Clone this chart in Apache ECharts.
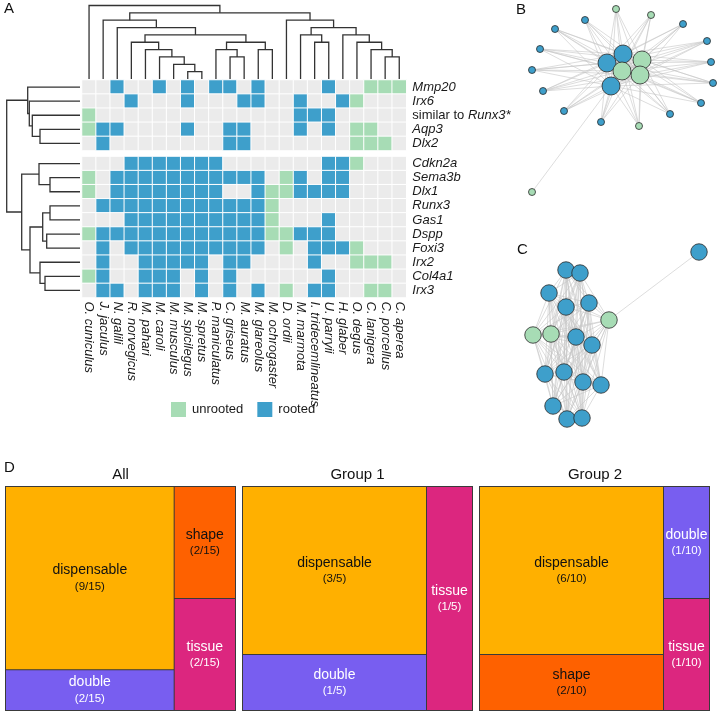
<!DOCTYPE html>
<html>
<head>
<meta charset="utf-8">
<script src="https://cdn.jsdelivr.net/npm/echarts@6/dist/echarts.min.js"></script>
<style>
  html, body { margin: 0; padding: 0; background: #fff; }
  #chart { width: 720px; height: 714px; }
</style>
</head>
<body>
<div id="chart"></div>
<script>
// ---------- data ----------
const species = ['O. cuniculus', 'J. jaculus', 'N. galili', 'R. norvegicus', 'M. pahari', 'M. caroli',
  'M. musculus', 'M. spicilegus', 'M. spretus', 'P. maniculatus', 'C. griseus', 'M. auratus',
  'M. glareolus', 'M. ochrogaster', 'D. ordii', 'M. marmota', 'I. tridecemlineatus', 'U. parryii',
  'H. glaber', 'O. degus', 'C. lanigera', 'C. porcellus', 'C. aperea'];
const genes = ['Mmp20', 'Irx6', 'similar to Runx3*', 'Aqp3', 'Dlx2',
  'Cdkn2a', 'Sema3b', 'Dlx1', 'Runx3', 'Gas1', 'Dspp', 'Foxi3', 'Irx2', 'Col4a1', 'Irx3'];
const topBlock = 5; // first 5 genes sit in the upper block

// one char per species: . = none, g = unrooted, b = rooted
const calls = [
  '..b..b.b.bb.b....b..ggg',
  '...b...b...bb..b..bg...',
  'g..............bbb.....',
  'gbb....b..bb...b.b.gg..',
  '.b........bb.......ggg.',
  '...bbbbbbb.......bbg...',
  'g.bbbbbbbbbbb.gb.bb....',
  'g.bbbbbbbb..bggbbbb....',
  '.bbbbbbbbbbbbg.........',
  '...bbbbbbbbbbg...b.....',
  'gbbbbbbbbbbbbggbbb.....',
  '.b.bbbbbbbbbb.g.bbbg...',
  '.b..bbbbb.bb....b..ggg.',
  'gb..bbb.b.b......b.....',
  '.bb.bbb.b.b.b.g.bb..gg.'
];

// dendrograms: [height, left, right], leaves are indices
const colTree = [10, 0, [9,
  [8, 1, [7, 2, [6,
    [5, 3, [4, 4, [3, 5, [2, 6, [1, 7, 8]]]]],
    [5, [4, 9, [3, 10, 11]], [4, 12, 13]]]]],
  [8, 14, [7, [6, 15, [5, 16, 17]], [6, 18, [5, 19, [4, 20, [3, 21, 22]]]]]]]];
const rowTree = [73.3,
  [52.3, 0, [50.7, 1, [47.7, 2, [40, 3, 4]]]],
  [58.3, [41, 5, [30, 6, 7]], [50, [37.3, [30, 8, 9], [33.3, 10, 11]], [40, 12, [35, 13, 14]]]]];

// network B (layout units), b = rooted, g = unrooted
const bX = [35, 65, 163, 187, 191, 193, 181, 150, 81, 44, 23, 12, 20, 96, 131, 119, 12, 87, 103, 91, 122, 102, 120];
const bY = [29, 20, 24, 41, 62, 83, 103, 114, 122, 111, 91, 70, 49, 9, 15, 126, 192, 63, 54, 86, 60, 71, 75];
const bType = 'bbbbbbbbbbbbbggggbbbggg';
const bSize = [7, 7, 7, 7, 7, 7, 7, 7, 7, 7, 7, 7, 7, 7, 7, 7, 7, 18, 18, 18, 18, 18, 18];
const bHubs = [17, 18, 19, 20, 21, 22];
const bLone = [[16, 19]];

// network C
const cX = [46, 60, 29, 46, 69, 56, 72, 25, 44, 63, 81, 33, 47, 62, 13, 31, 89, 179];
const cY = [30, 33, 53, 67, 63, 97, 105, 134, 132, 142, 145, 166, 179, 178, 95, 94, 80, 12];
const cType = 'bbbbbbbbbbbbbbgggb';
const cLone = [[16, 17]];

// treemaps
const allNames = [['dispensable', 'double'], ['shape', 'tissue']];
const allCounts = [[9, 2], [2, 2]];
const g1Names = [['dispensable', 'double'], ['tissue']];
const g1Counts = [[3, 1], [1]];
const g2Names = [['dispensable', 'shape'], ['double', 'tissue']];
const g2Counts = [[6, 2], [1, 1]];

// ---------- styling ----------
const FONT = '"Liberation Sans", Arial, Helvetica, sans-serif';
const GRAY = '#ebebeb', GREEN = '#a7dcb5', BLUE = '#3e9fcb';
const CELL = 14.1, GAP = 6;
const LABEL_H = 32; // two-line treemap label block
const catColor = { dispensable: '#FFB000', double: '#785EF0', shape: '#FE6100', tissue: '#DC267F' };
const catText = { dispensable: '#111', double: '#fff', shape: '#111', tissue: '#fff' };

var chart = echarts.init(document.getElementById('chart'));

function buildTree(node, pos, out) {
  if (typeof node === 'number') return { p: pos(node), h: 0 };
  const a = buildTree(node[1], pos, out);
  const b = buildTree(node[2], pos, out);
  out.push([a.p, a.h, node[0], b.p, b.h]);
  return { p: (a.p + b.p) / 2, h: node[0] };
}
const colSegs = [];
buildTree(colTree, c => c + 0.5, colSegs);
const colLines = colSegs.map(s => ({ coords: [[s[0], s[1]], [s[0], s[2]], [s[3], s[2]], [s[3], s[4]]] }));
const rowSegs = [];
buildTree(rowTree, r => r + 0.5 + (r >= topBlock ? GAP / CELL : 0), rowSegs);
const rowLines = rowSegs.map(s => ({ coords: [[s[1], s[0]], [s[2], s[0]], [s[2], s[3]], [s[4], s[3]]] }));

const code = { '.': 0, g: 1, b: 2 };
const heatTop = [], heatBot = [];
calls.forEach((row, r) => row.split('').forEach((ch, c) => {
  if (r < topBlock) heatTop.push([c, r, code[ch]]);
  else heatBot.push([c, r - topBlock, code[ch]]);
}));

const hmLeft = 82, hmTop = 80, hmW = species.length * CELL;
const topH = topBlock * CELL, botH = (genes.length - topBlock) * CELL;

function geneLabel(v) {
  if (v === 'similar to Runx3*') return '{n|similar to }{i|Runx3*}';
  return '{i|' + v + '}';
}
const geneRich = {
  n: { fontSize: 13, fontFamily: FONT, color: '#1a1a1a', fontStyle: 'normal' },
  i: { fontSize: 13, fontFamily: FONT, color: '#1a1a1a', fontStyle: 'italic' }
};

function netNodes(xs, ys, types, sizes) {
  return xs.map((x, i) => ({
    value: [x, ys[i]],
    symbolSize: typeof sizes === 'number' ? sizes : sizes[i],
    itemStyle: { color: types[i] === 'b' ? BLUE : GREEN, borderColor: '#2a2a2a', borderWidth: 0.8 }
  }));
}
const bLinks = [];
bX.forEach((_, i) => {
  if (bHubs.indexOf(i) >= 0 || bLone.some(l => l[0] === i)) return;
  bHubs.forEach(h => bLinks.push({ source: i, target: h }));
});
bHubs.forEach((h, i) => bHubs.slice(i + 1).forEach(k => bLinks.push({ source: h, target: k })));
bLone.forEach(l => bLinks.push({ source: l[0], target: l[1] }));
const cLinks = [];
for (let i = 0; i < cX.length; i++) {
  for (let j = i + 1; j < cX.length; j++) {
    if (cLone.some(l => l[1] === i || l[1] === j)) continue;
    cLinks.push({ source: i, target: j });
  }
}
cLone.forEach(l => cLinks.push({ source: l[0], target: l[1] }));

function graphSeries(idx, nodes, links) {
  return {
    type: 'graph', layout: 'none', coordinateSystem: 'cartesian2d',
    xAxisIndex: idx, yAxisIndex: idx, silent: true,
    data: nodes, links: links,
    lineStyle: { color: '#c6c6c6', width: 0.6, opacity: 1 },
    label: { show: false }, emphasis: { disabled: true }
  };
}

function treemapData(names, counts, pads) {
  return names.map((grp, gi) => ({
    name: 'group' + gi,
    children: grp.map((n, i) => ({
      name: n, value: counts[gi][i],
      itemStyle: { color: catColor[n] },
      label: { color: catText[n], padding: [pads ? pads[n] || 0 : 0, 0, 0, 0] }
    }))
  }));
}

function treemap(names, counts, left) {
  const total = counts.flat().reduce((a, b) => a + b, 0);
  return {
    type: 'treemap', left: left, top: 486, width: 231, height: 225,
    roam: false, nodeClick: false, silent: true, sort: false,
    breadcrumb: { show: false },
    itemStyle: { borderColor: '#3a3a3a' },
    levels: [
      { itemStyle: { borderWidth: 1, gapWidth: 1 } },
      { itemStyle: { borderWidth: 0, gapWidth: 1 } },
      { itemStyle: { borderWidth: 0 } }
    ],
    label: {
      show: true, position: 'inside', align: 'center',
      overflow: 'none',
      formatter: p => '{n|' + p.name + '}\n{f|(' + p.value + '/' + total + ')}',
      rich: {
        n: { fontSize: 14, fontFamily: FONT, lineHeight: 17, align: 'center' },
        f: { fontSize: 11.5, fontFamily: FONT, lineHeight: 15, align: 'center' }
      }
    },
    emphasis: { disabled: true },
    data: treemapData(names, counts)
  };
}

const hiddenVal = (min, max, inverse) => ({ type: 'value', min: min, max: max, inverse: !!inverse, show: false });
const letter = { fontSize: 15, fontWeight: 'normal', fontFamily: FONT, color: '#111' };
const head = { fontSize: 15, fontWeight: 'normal', fontFamily: FONT, color: '#111' };
const geneAxis = (list) => ({
  type: 'category', data: list, inverse: true, position: 'right',
  axisLine: { show: false }, axisTick: { show: false },
  axisLabel: { interval: 0, margin: 6, formatter: geneLabel, rich: geneRich }
});

const treemaps = [[allNames, allCounts, 5], [g1Names, g1Counts, 242], [g2Names, g2Counts, 479]];

const option = {
  animation: false,
  backgroundColor: '#fff',
  title: [
    { text: 'A', left: 4, top: 1, padding: 0, textStyle: letter },
    { text: 'B', left: 516, top: 2, padding: 0, textStyle: letter },
    { text: 'C', left: 517, top: 242, padding: 0, textStyle: letter },
    { text: 'D', left: 4, top: 460, padding: 0, textStyle: letter },
    { text: 'All', left: 120.5, top: 467, padding: 0, textAlign: 'center', textStyle: head },
    { text: 'Group 1', left: 357.5, top: 467, padding: 0, textAlign: 'center', textStyle: head },
    { text: 'Group 2', left: 595, top: 467, padding: 0, textAlign: 'center', textStyle: head }
  ],
  grid: [
    { left: hmLeft, top: 4, width: hmW, height: 75 },
    { left: 5, top: hmTop, width: 75, height: topH + GAP + botH },
    { left: hmLeft, top: hmTop, width: hmW, height: topH },
    { left: hmLeft, top: hmTop + topH + GAP, width: hmW, height: botH },
    { left: 520, top: 0, width: 200, height: 200 },
    { left: 520, top: 240, width: 200, height: 200 }
  ],
  xAxis: [
    hiddenVal(0, species.length),
    hiddenVal(0, 75, true),
    { type: 'category', data: species, show: false },
    {
      type: 'category', data: species,
      axisLine: { show: false }, axisTick: { show: false },
      axisLabel: { interval: 0, rotate: -90, margin: 4, fontSize: 13, fontStyle: 'italic', fontFamily: FONT, color: '#1a1a1a' }
    },
    hiddenVal(0, 200),
    hiddenVal(0, 200)
  ].map((a, i) => Object.assign({ gridIndex: i }, a)),
  yAxis: [
    hiddenVal(0, 75 / 7.35),
    hiddenVal(0, genes.length + GAP / CELL, true),
    geneAxis(genes.slice(0, topBlock)),
    geneAxis(genes.slice(topBlock)),
    hiddenVal(0, 200, true),
    hiddenVal(0, 200, true)
  ].map((a, i) => Object.assign({ gridIndex: i }, a)),
  visualMap: {
    type: 'piecewise', seriesIndex: [2, 3], dimension: 2,
    pieces: [
      { value: 1, label: 'unrooted', color: GREEN },
      { value: 2, label: 'rooted', color: BLUE }
    ],
    outOfRange: { color: GRAY },
    orient: 'horizontal', left: 171, top: 402, padding: 0,
    itemWidth: 15, itemHeight: 15, itemGap: 14, itemSymbol: 'rect', textGap: 6,
    selectedMode: false,
    textStyle: { fontSize: 13, fontFamily: FONT, color: '#1a1a1a' }
  },
  series: [
    {
      type: 'lines', coordinateSystem: 'cartesian2d', xAxisIndex: 0, yAxisIndex: 0,
      polyline: true, silent: true, data: colLines,
      lineStyle: { color: '#333', width: 1.3, opacity: 1 }
    },
    {
      type: 'lines', coordinateSystem: 'cartesian2d', xAxisIndex: 1, yAxisIndex: 1,
      polyline: true, silent: true, data: rowLines,
      lineStyle: { color: '#333', width: 1.3, opacity: 1 }
    },
    {
      type: 'heatmap', xAxisIndex: 2, yAxisIndex: 2, data: heatTop, silent: true,
      itemStyle: { borderColor: '#fff', borderWidth: 1 }
    },
    {
      type: 'heatmap', xAxisIndex: 3, yAxisIndex: 3, data: heatBot, silent: true,
      itemStyle: { borderColor: '#fff', borderWidth: 1 }
    },
    graphSeries(4, netNodes(bX, bY, bType, bSize), bLinks),
    graphSeries(5, netNodes(cX, cY, cType, 16.5), cLinks)
  ].concat(treemaps.map(t => treemap(t[0], t[1], t[2])))
};
chart.setOption(option);

// treemap labels sit at the top of their cell; push them to the middle
// using the cell heights the treemap layout produced
const firstTm = option.series.length - treemaps.length;
const tmUpdate = treemaps.map((t, k) => {
  const pads = {};
  const data = chart.getModel().getSeriesByIndex(firstTm + k).getData();
  data.tree.eachNode(node => {
    if (node.children && node.children.length) return;
    const l = node.getLayout();
    if (l) pads[node.name] = Math.max(0, (l.height - LABEL_H) / 2);
  });
  return { data: treemapData(t[0], t[1], pads) };
});
chart.setOption({ series: option.series.slice(0, firstTm).map(() => ({})).concat(tmUpdate) });
window.addEventListener('resize', () => chart.resize());
</script>
</body>
</html>
